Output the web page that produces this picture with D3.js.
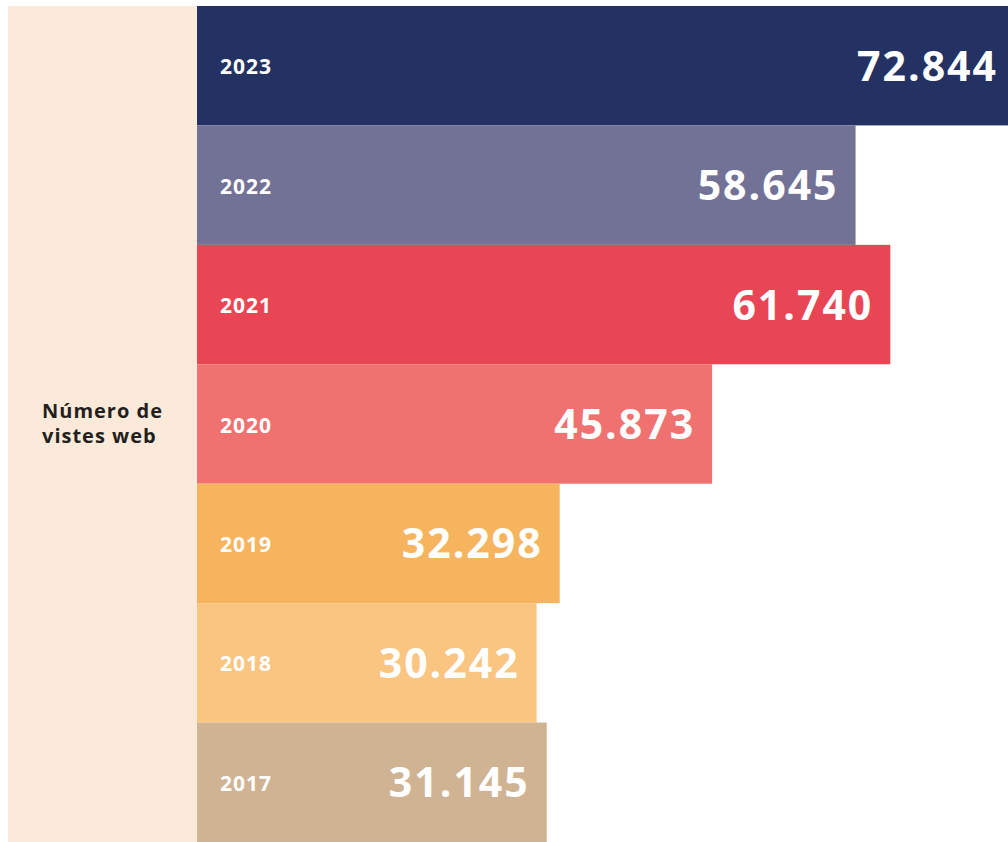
<!DOCTYPE html>
<html><head><meta charset="utf-8">
<script src="https://cdn.jsdelivr.net/npm/d3@7"></script>
<style>html,body{margin:0;padding:0;background:#fff;overflow:hidden}</style>
</head><body>
<svg id="c" width="1008" height="842"></svg>
<script>
const years = ["2023","2022","2021","2020","2019","2018","2017"];
const values = [72844, 58645, 61740, 45873, 32298, 30242, 31145];
const valueLabels = ["72.844","58.645","61.740","45.873","32.298","30.242","31.145"];
const colors = ["#243263","#727196","#e84655","#ef7271","#f7b45e","#fac580","#cfb392"];
const titleLines = ["Número de","vistes web"];

const svg = d3.select("#c");
const font = "'Open Sans', 'Noto Sans', sans-serif";
const x = d3.scaleLinear().domain([0, 72844]).range([197, 1015]);
const y = d3.scaleBand().domain(years).range([6, 842]).padding(0);

svg.append("rect").attr("x",8).attr("y",6).attr("width",189).attr("height",836).attr("fill","#fbead9");

const data = years.map((yr,i)=>({yr, v:values[i], lab:valueLabels[i], c:colors[i]}));
const g = svg.selectAll("g.bar").data(data).enter().append("g");
g.append("rect")
  .attr("x", x(0)).attr("y", d=>y(d.yr))
  .attr("width", d=>x(d.v)-x(0)).attr("height", y.bandwidth())
  .attr("fill", d=>d.c);
g.append("text")
  .attr("x", 220).attr("y", d=>y(d.yr)+y.bandwidth()/2+8.5)
  .attr("fill","#fff").attr("font-family",font).attr("font-weight",700)
  .attr("font-size",21).attr("letter-spacing",1).text(d=>d.yr);
g.append("text")
  .attr("x", d=>x(d.v)-17).attr("y", d=>y(d.yr)+y.bandwidth()/2+15)
  .attr("text-anchor","end")
  .attr("fill","#fff").attr("font-family",font).attr("font-weight",700)
  .attr("font-size",41).attr("letter-spacing",2).text(d=>d.lab);

svg.append("text").attr("x",42).attr("y",418)
  .attr("fill","#231f20").attr("font-family",font).attr("font-weight",700).attr("font-size",20)
  .attr("letter-spacing",1)
  .selectAll("tspan").data(titleLines).enter().append("tspan")
  .attr("x",42).attr("dy",(d,i)=>i===0?0:25).text(d=>d);
</script>
</body></html>
